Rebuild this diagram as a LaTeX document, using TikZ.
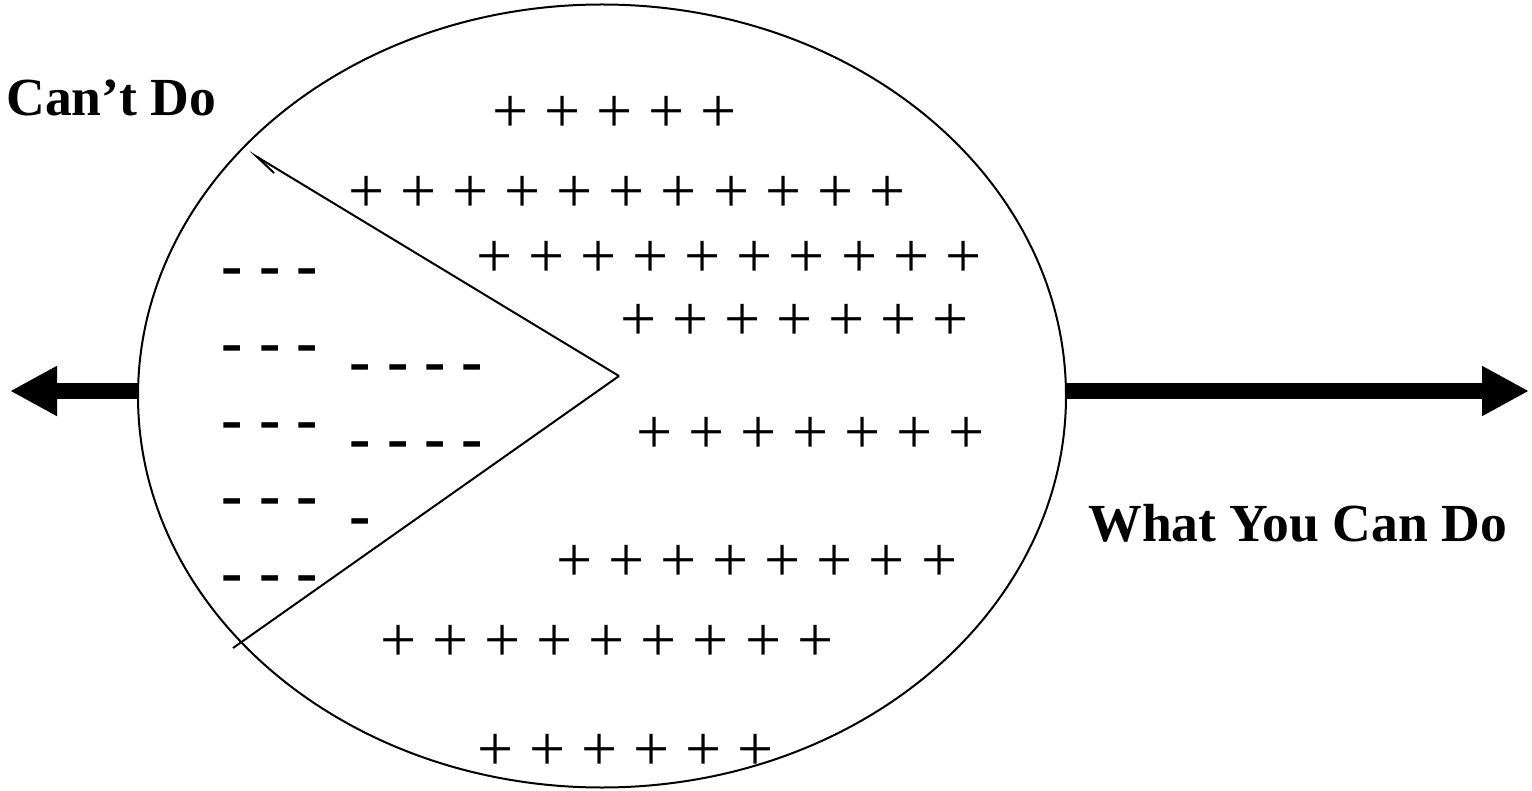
\documentclass[tikz,border=0pt]{standalone}
\usepackage{fontspec}
\setmainfont{Liberation Serif}
\usetikzlibrary{arrows.meta,shapes.geometric}
\begin{document}
\begin{tikzpicture}[x=0.5pt,y=-0.5pt,
    lbl/.style={inner sep=0pt, anchor=base west, font=\fontsize{26.8pt}{30pt}\selectfont\bfseries},
    marks/.style={inner sep=0pt, anchor=base west, font=\fontsize{32pt}{36pt}\selectfont},
    negmarks/.style={marks, font=\fontsize{32pt}{36pt}\selectfont\bfseries},
    wedgeline/.style={line width=1pt},
    bigarrow/.style={line width=8pt, -{Triangle[length=23.5pt,width=23.5pt]}}]
  \useasboundingbox (0,0) rectangle (1532,791);
  % the big oval
  \node[draw, ellipse, line width=1pt, minimum width=464pt, minimum height=391.5pt,
        inner sep=0pt, outer sep=0pt] (blob) at (602,396) {};
  % arrows out of the oval
  \coordinate (tipL) at (10,391);
  \coordinate (tipR) at (1529,391);
  \draw[bigarrow] (blob.west |- tipL) -- (tipL);
  \draw[bigarrow] (blob.east |- tipR) -- (tipR);
  % the wedge
  \coordinate (apex) at (619,376);
  \coordinate (upEnd) at (249,152);
  \coordinate (lowEnd) at (233,648);
  \draw[wedgeline, -{Straight Barb[left,length=11.5pt,width=5pt]}] (apex) -- (upEnd);
  \draw[wedgeline] (apex) -- (lowEnd);
  % labels
  \node[lbl] (cantdo) at (6,116) {Can’t Do};
  \node[lbl] (cando) at (1088,541) {What You Can Do};
  % minus signs
  \foreach \row/\ypos in {1/272,2/349,3/426,4/502,5/579}
    \node[negmarks] (negL\row) at (221.5,\ypos+14.4) {- - -};
  \node[negmarks] (negR1) at (349.5,382.4) {- - - -};
  \node[negmarks] (negR2) at (349.5,459.4) {- - - -};
  \node[negmarks] (negR3) at (349.5,536.4) {-};
  % plus signs
  \node[marks] (pos1) at (492,133) {+ + + + +};
  \node[marks] (pos2) at (348,213) {+ + + + + + + + + + +};
  \node[marks] (pos3) at (476,278) {+ + + + + + + + + +};
  \node[marks] (pos4) at (620,341) {+ + + + + + +};
  \node[marks] (pos5) at (636,453) {+ + + + + + +};
  \node[marks] (pos6) at (556,581) {+ + + + + + + +};
  \node[marks] (pos7) at (380,661) {+ + + + + + + + +};
  \node[marks] (pos8) at (477,770) {+ + + + + +};
\end{tikzpicture}
\end{document}
